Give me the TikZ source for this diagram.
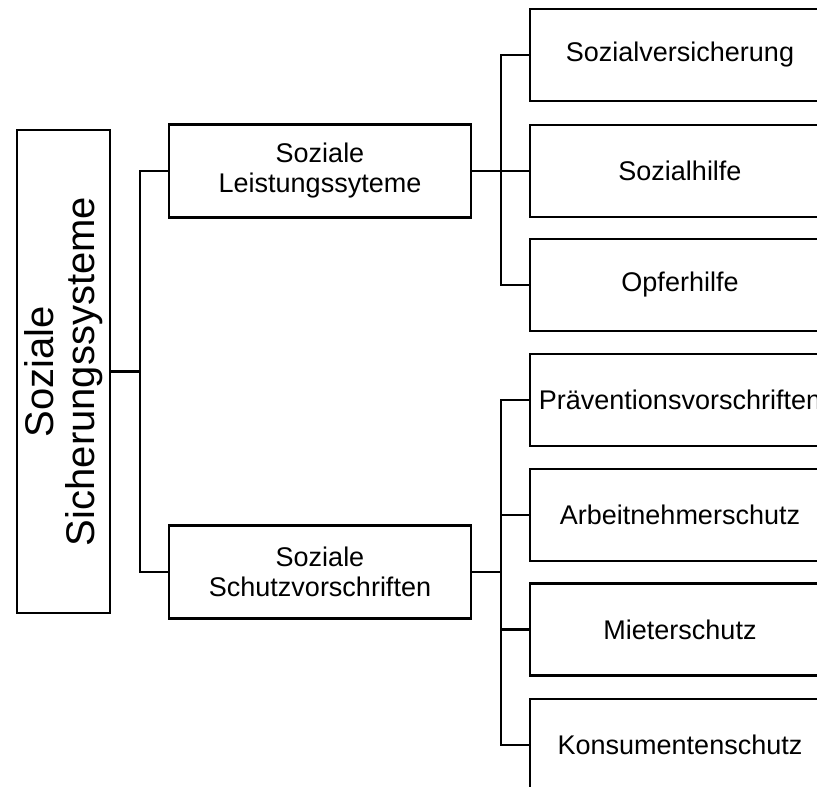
\documentclass[tikz,border=0pt]{standalone}
\usepackage{fontspec}
\setmainfont{Liberation Sans}
\begin{document}
\begin{tikzpicture}[x=1pt,y=-1pt,
  box/.style={draw, line width=2.5pt, inner sep=0pt, align=center,
    font=\fontsize{27}{30}\selectfont},
  midbox/.style={box, minimum width=302pt, minimum height=93pt},
  leafbox/.style={box, minimum width=300pt, minimum height=92pt},
  conn/.style={line width=2.5pt}]
\useasboundingbox (0,0) rectangle (817,787);
\clip (0,0) rectangle (817,787);
\node[box, rotate=90, minimum width=483pt, minimum height=93pt,
  font=\fontsize{40}{41}\selectfont] (root) at (63.5,371.5) {Soziale\\Sicherungssysteme};
\node[midbox] (m1) at (320,171) {Soziale\\Leistungssyteme};
\node[midbox] (m2) at (320,572) {Soziale\\Schutzvorschriften};
\node[leafbox] (r1) at (680,55) {Sozialversicherung};
\node[leafbox] (r2) at (680,171) {Sozialhilfe};
\node[leafbox] (r3) at (680,285) {Opferhilfe};
\node[leafbox] (r4) at (680,400) {Präventionsvorschriften};
\node[leafbox] (r5) at (680,515) {Arbeitnehmerschutz};
\node[leafbox] (r6) at (680,629.5) {Mieterschutz};
\node[leafbox] (r7) at (680,745) {Konsumentenschutz};
\coordinate (j1) at (140,0);
\coordinate (j2) at (501,0);
\draw[conn] (root.south) -- (root.south -| j1);
\draw[conn] (m1.west) -- (m1.west -| j1) -- (m2.west -| j1) -- (m2.west);
\draw[conn] (m1.east) -- (m1.east -| j2);
\draw[conn] (r1.west) -- (r1.west -| j2) -- (r3.west -| j2) -- (r3.west);
\draw[conn] (r2.west) -- (r2.west -| j2);
\draw[conn] (m2.east) -- (m2.east -| j2);
\draw[conn] (r4.west) -- (r4.west -| j2) -- (r7.west -| j2) -- (r7.west);
\draw[conn] (r5.west) -- (r5.west -| j2);
\draw[conn] (r6.west) -- (r6.west -| j2);
\end{tikzpicture}
\end{document}
